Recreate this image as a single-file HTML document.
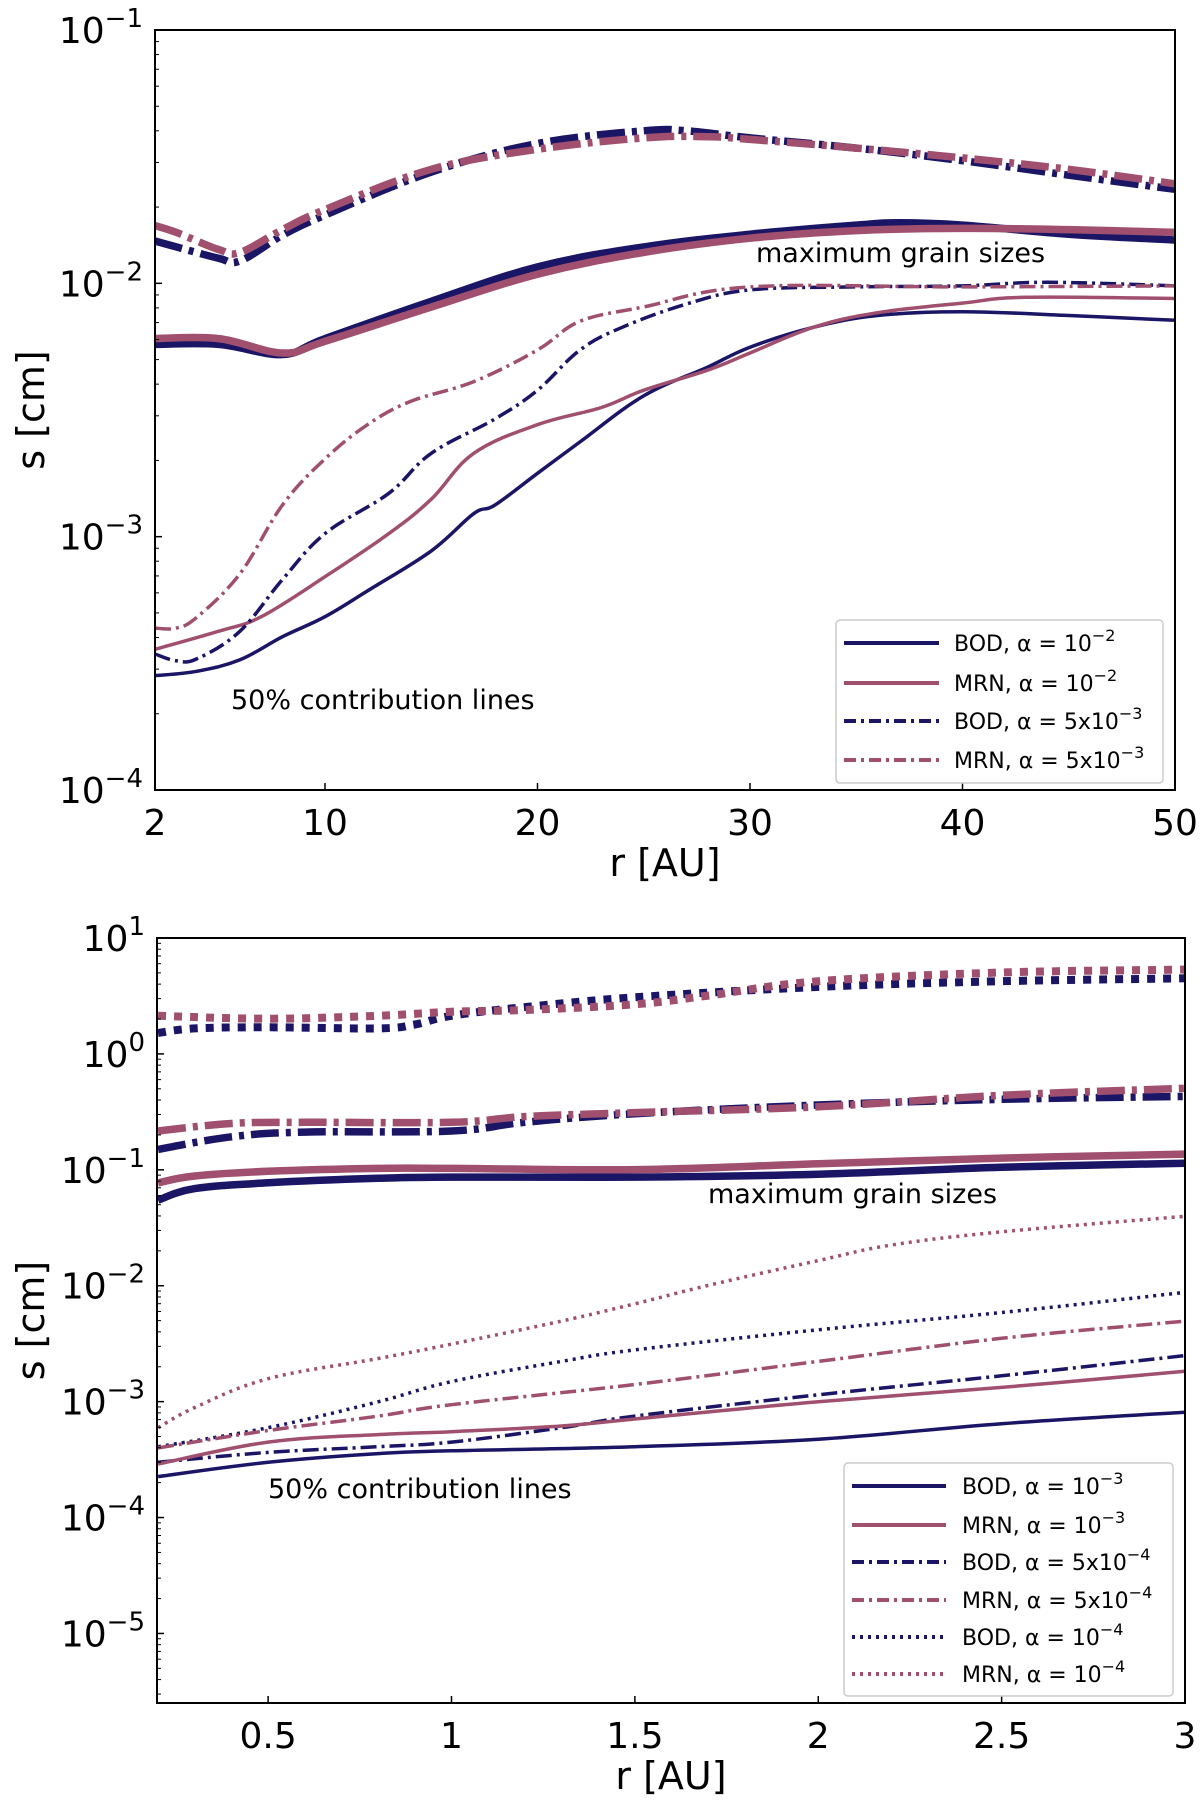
<!DOCTYPE html>
<html><head><meta charset="utf-8"><style>
html,body{margin:0;padding:0;background:#fff;}
svg{display:block;font-family:"DejaVu Sans","Liberation Sans",sans-serif;}
</style></head><body>
<svg id="fig" width="1200" height="1805" viewBox="0 0 1200 1805" xmlns="http://www.w3.org/2000/svg"></svg>
<script>
// ---------- Top panel data (log10 s [cm]) ----------
const topBodMaxX=[2,5,8,10,15,20,25,30,35,37,40,45,50];
const topBodMaxY=[-2.241,-2.241,-2.281,-2.218,-2.071,-1.935,-1.856,-1.806,-1.770,-1.761,-1.770,-1.806,-1.829];
const topMrnMaxX=[2,5,8,10,15,20,25,30,35,40,45,50];
const topMrnMaxY=[-2.218,-2.218,-2.275,-2.229,-2.094,-1.964,-1.878,-1.822,-1.792,-1.783,-1.788,-1.799];
const topBodDdMaxX=[2,3,5,6,8,10,15,20,25,27,30,35,40,45,50];
const topBodDdMaxY=[-1.833,-1.856,-1.901,-1.912,-1.810,-1.731,-1.561,-1.448,-1.398,-1.398,-1.426,-1.466,-1.516,-1.573,-1.629];
const topMrnDdMaxX=[2,3,5,6,8,10,15,20,25,28,30,35,40,45,50];
const topMrnDdMaxY=[-1.772,-1.799,-1.867,-1.878,-1.788,-1.709,-1.550,-1.471,-1.426,-1.421,-1.432,-1.466,-1.505,-1.550,-1.607];
const topBod50X=[2,4,6,8,10,12,15,17,18,20,22,25,28,30,33,36,40,45,50];
const topBod50Y=[-3.549,-3.531,-3.486,-3.395,-3.316,-3.214,-3.056,-2.909,-2.875,-2.750,-2.626,-2.444,-2.331,-2.252,-2.173,-2.127,-2.112,-2.127,-2.146];
const topMrn50X=[2,5,7,10,13,15,17,20,23,25,28,30,33,36,40,43,50];
const topMrn50Y=[-3.445,-3.373,-3.316,-3.158,-2.988,-2.852,-2.671,-2.558,-2.490,-2.422,-2.343,-2.275,-2.173,-2.116,-2.078,-2.055,-2.060];
const topBodDd50X=[2,3,4,6,8,10,13,15,18,20,22,24,27,30,35,40,44,50];
const topBodDd50Y=[-3.463,-3.490,-3.481,-3.373,-3.169,-2.988,-2.829,-2.671,-2.535,-2.422,-2.263,-2.173,-2.082,-2.026,-2.014,-2.010,-1.996,-2.010];
const topMrnDd50X=[2,3,4,6,8,10,12,14,17,20,22,25,30,40,50];
const topMrnDd50Y=[-3.361,-3.361,-3.316,-3.146,-2.875,-2.693,-2.558,-2.467,-2.388,-2.263,-2.150,-2.093,-2.014,-2.014,-2.010];
const topXTicks=[2,10,20,30,40,50];
const topYTicks=[-4,-3,-2,-1];

// ---------- Bottom panel data (log10 s [cm]) ----------
const botBodDotMaxX=[0.2,0.3,0.5,0.8,0.9,1,1.2,1.5,2,2.5,3];
const botBodDotMaxY=[0.180,0.220,0.230,0.220,0.254,0.329,0.404,0.488,0.578,0.627,0.652];
const botMrnDotMaxX=[0.2,0.5,0.8,1,1.2,1.5,1.7,2,2.5,3];
const botMrnDotMaxY=[0.329,0.304,0.329,0.364,0.379,0.428,0.503,0.627,0.702,0.727];
const botDdMaxX=[0.2,0.4,0.6,1,1.2,1.5,2,2.5,3];
const botBodDdMaxY=[-0.824,-0.715,-0.675,-0.665,-0.590,-0.516,-0.441,-0.392,-0.367];
const botMrnDdMaxY=[-0.665,-0.600,-0.590,-0.590,-0.541,-0.506,-0.456,-0.357,-0.297];
const botSolidMaxX=[0.2,0.3,0.5,0.8,1,1.5,2,2.5,3];
const botBodMaxY=[-1.261,-1.162,-1.112,-1.073,-1.063,-1.063,-1.038,-0.978,-0.943];
const botMrnMaxY=[-1.112,-1.053,-1.013,-0.988,-0.988,-0.998,-0.948,-0.899,-0.864];
const botMrnDot50X=[0.2,0.3,0.5,0.8,1,1.3,1.5,1.7,2,2.2,2.5,3];
const botMrnDot50Y=[-3.225,-3.051,-2.802,-2.628,-2.504,-2.305,-2.156,-1.997,-1.783,-1.649,-1.535,-1.401];
const botBodDot50X=[0.2,0.5,0.8,1,1.3,1.5,2,2.5,3];
const botBodDot50Y=[-3.389,-3.225,-3.001,-2.827,-2.653,-2.554,-2.380,-2.231,-2.057];
const botMrnDd50X=[0.2,0.5,0.8,1,1.5,2,2.5,3];
const botMrnDd50Y=[-3.399,-3.249,-3.125,-3.026,-2.852,-2.653,-2.454,-2.305];
const botBodDd50X=[0.2,0.5,0.8,1,1.3,1.5,2,2.5,3];
const botBodDd50Y=[-3.523,-3.438,-3.389,-3.349,-3.225,-3.125,-2.941,-2.777,-2.603];
const botMrn50X=[0.2,0.5,0.8,1,1.3,1.5,2,2.5,3];
const botMrn50Y=[-3.538,-3.349,-3.284,-3.259,-3.210,-3.150,-3.001,-2.877,-2.738];
const botBod50X=[0.2,0.5,0.8,1,1.5,2,2.5,3];
const botBod50Y=[-3.647,-3.523,-3.448,-3.424,-3.389,-3.324,-3.190,-3.091];
const botXTicks=[0.5,1,1.5,2,2.5,3];
const botXTickLabels=["0.5","1","1.5","2","2.5","3"];
const botYTicks=[-5,-4,-3,-2,-1,0,1];

const NAVY="#1b1566", MAUVE="#a0506e";
const NS="http://www.w3.org/2000/svg";
const svg=document.getElementById('fig');
function mk(tag,attrs,parent){const e=document.createElementNS(NS,tag);for(const k in attrs)e.setAttribute(k,attrs[k]);(parent||svg).appendChild(e);return e;}

function smoothPath(P){
  let d='M'+P[0][0].toFixed(1)+','+P[0][1].toFixed(1);
  for(let i=0;i<P.length-1;i++){
    const p0=P[Math.max(0,i-1)],p1=P[i],p2=P[i+1],p3=P[Math.min(P.length-1,i+2)];
    const t=0.18;
    const c1=[p1[0]+(p2[0]-p0[0])*t,p1[1]+(p2[1]-p0[1])*t];
    const c2=[p2[0]-(p3[0]-p1[0])*t,p2[1]-(p3[1]-p1[1])*t];
    d+=' C'+c1[0].toFixed(1)+','+c1[1].toFixed(1)+' '+c2[0].toFixed(1)+','+c2[1].toFixed(1)+' '+p2[0].toFixed(1)+','+p2[1].toFixed(1);
  }
  return d;
}

function panel(cfg){
  const g=mk('g',{});
  
  
  const sx=v=>cfg.x0+(v-cfg.xmin)/(cfg.xmax-cfg.xmin)*(cfg.x1-cfg.x0);
  const sy=v=>cfg.y1-(v-cfg.ymin)/(cfg.ymax-cfg.ymin)*(cfg.y1-cfg.y0);
  const sg=mk('g',{},g);
  cfg.series.forEach(s=>{
    const P=s.x.map((x,i)=>[sx(x),sy(s.y[i])]);
    const p=mk('path',{d:smoothPath(P),fill:'none',stroke:s.c,'stroke-width':s.w,'stroke-linejoin':'round'},sg);
    if(s.d)p.setAttribute('stroke-dasharray',s.d);
    
    
  });
  const fr=mk('rect',{x:cfg.x0,y:cfg.y0,width:cfg.x1-cfg.x0,height:cfg.y1-cfg.y0,fill:'none',stroke:'#000','stroke-width':2},g);
  
  
  cfg.xt.forEach((v,i)=>{
    const x=sx(v);
    mk('line',{x1:x,x2:x,y1:cfg.y1,y2:cfg.y1-7,stroke:'#000','stroke-width':1.5},g);
    const t=mk('text',{x:x,y:cfg.y1+45,'text-anchor':'middle','font-size':36},g);
    t.textContent=cfg.xl[i];
    
    
  });
  cfg.yt.forEach(v=>{
    const y=sy(v);
    mk('line',{x1:cfg.x0,x2:cfg.x0+7,y1:y,y2:y,stroke:'#000','stroke-width':1.5},g);
    const t=mk('text',{x:cfg.x0-12,y:y+13,'text-anchor':'end','font-size':36},g);
    
    
    t.textContent='10';
    const sp=mk('tspan',{dy:-16,'font-size':26},t);sp.textContent=(v<0?'\u2212'+(-v):String(v));
  });
  for(let d=Math.floor(cfg.ymin);d<cfg.ymax;d++){
    for(let m=2;m<10;m++){const v=d+Math.log10(m);if(v<=cfg.ymin||v>=cfg.ymax)continue;const y=sy(v);
      mk('line',{x1:cfg.x0,x2:cfg.x0+4,y1:y,y2:y,stroke:'#000','stroke-width':1},g);}
  }
  const xt=mk('text',{x:(cfg.x0+cfg.x1)/2,y:cfg.y1+86,'text-anchor':'middle','font-size':38},g);
  xt.textContent='r [AU]';
  
  
  const yc=(cfg.y0+cfg.y1)/2;
  const yt=mk('text',{x:44,y:yc,'text-anchor':'middle','font-size':38,transform:'rotate(-90 44 '+yc+')'},g);
  yt.textContent='s [cm]';
  
  
  cfg.ann.forEach(a=>{const t=mk('text',{x:a[0],y:a[1],'font-size':27},g);t.textContent=a[2];
    
    });
  const L=cfg.leg;
  const lg=mk('g',{},g);
  
  
  mk('rect',{x:L.x,y:L.y,width:L.w,height:L.h,rx:4,fill:'#fff',stroke:'#ccc','stroke-width':1.5},lg);
  L.items.forEach((it,i)=>{
    const y=L.ey[i];
    const ln=mk('line',{x1:L.lx0,x2:L.lx1,y1:y,y2:y,stroke:it.c,'stroke-width':4},lg);
    if(it.d)ln.setAttribute('stroke-dasharray',it.d);
    const t=mk('text',{x:L.tx,y:y+8,'font-size':22},lg);
    
    
    t.textContent=it.t;
    const sp=mk('tspan',{dy:-10,'font-size':16},t);sp.textContent=it.e;
  });
}

const DDt="28 7 5 7", DDthin="16 5 3 5";
panel({name:'top-panel',x0:155,x1:1175,y0:30,y1:790,xmin:2,xmax:50,ymin:-4,ymax:-1,
  xt:topXTicks,xl:topXTicks.map(String),yt:topYTicks,
  series:[
    {n:'bod-max-dashdot',x:topBodDdMaxX,y:topBodDdMaxY,c:NAVY,w:7.5,d:DDt},
    {n:'mrn-max-dashdot',x:topMrnDdMaxX,y:topMrnDdMaxY,c:MAUVE,w:7.5,d:DDt},
    {n:'bod-max-solid',x:topBodMaxX,y:topBodMaxY,c:NAVY,w:7.5},
    {n:'mrn-max-solid',x:topMrnMaxX,y:topMrnMaxY,c:MAUVE,w:7.5},
    {n:'bod-50-solid',x:topBod50X,y:topBod50Y,c:NAVY,w:3.5},
    {n:'mrn-50-solid',x:topMrn50X,y:topMrn50Y,c:MAUVE,w:3.5},
    {n:'bod-50-dashdot',x:topBodDd50X,y:topBodDd50Y,c:NAVY,w:3.5,d:DDthin},
    {n:'mrn-50-dashdot',x:topMrnDd50X,y:topMrnDd50Y,c:MAUVE,w:3.5,d:DDthin}
  ],
  ann:[[756,262,'maximum grain sizes','max-size-annotation'],[231,709,'50% contribution lines','contribution-annotation']],
  leg:{x:836,y:620,w:327,h:163,lx0:844,lx1:939,tx:954,ey:[643,683,721,760],
    items:[{c:NAVY,t:'BOD, \u03b1 = 10',e:'\u22122'},{c:MAUVE,t:'MRN, \u03b1 = 10',e:'\u22122'},
      {c:NAVY,d:'12 5 3 5',t:'BOD, \u03b1 = 5x10',e:'\u22123'},{c:MAUVE,d:'12 5 3 5',t:'MRN, \u03b1 = 5x10',e:'\u22123'}]}
});

const DOTt="8 8", DOTthin="3 5";
panel({name:'bottom-panel',x0:157,x1:1185,y0:938,y1:1703,xmin:0.197,xmax:3,ymin:-5.6,ymax:1,
  xt:botXTicks,xl:botXTickLabels,yt:botYTicks,
  series:[
    {n:'bod-max-dotted',x:botBodDotMaxX,y:botBodDotMaxY,c:NAVY,w:8,d:DOTt},
    {n:'mrn-max-dotted',x:botMrnDotMaxX,y:botMrnDotMaxY,c:MAUVE,w:8,d:DOTt},
    {n:'bod-max-dashdot',x:botDdMaxX,y:botBodDdMaxY,c:NAVY,w:7.5,d:DDt},
    {n:'mrn-max-dashdot',x:botDdMaxX,y:botMrnDdMaxY,c:MAUVE,w:7.5,d:DDt},
    {n:'bod-max-solid',x:botSolidMaxX,y:botBodMaxY,c:NAVY,w:7.5},
    {n:'mrn-max-solid',x:botSolidMaxX,y:botMrnMaxY,c:MAUVE,w:7.5},
    {n:'mrn-50-dotted',x:botMrnDot50X,y:botMrnDot50Y,c:MAUVE,w:3.5,d:DOTthin},
    {n:'bod-50-dotted',x:botBodDot50X,y:botBodDot50Y,c:NAVY,w:3.5,d:DOTthin},
    {n:'mrn-50-dashdot',x:botMrnDd50X,y:botMrnDd50Y,c:MAUVE,w:3.5,d:DDthin},
    {n:'bod-50-dashdot',x:botBodDd50X,y:botBodDd50Y,c:NAVY,w:3.5,d:DDthin},
    {n:'mrn-50-solid',x:botMrn50X,y:botMrn50Y,c:MAUVE,w:3.5},
    {n:'bod-50-solid',x:botBod50X,y:botBod50Y,c:NAVY,w:3.5}
  ],
  ann:[[708,1203,'maximum grain sizes','max-size-annotation'],[268,1498,'50% contribution lines','contribution-annotation']],
  leg:{x:844,y:1463,w:329,h:233,lx0:852,lx1:946,tx:962,ey:[1486,1525,1562,1600,1637,1674],
    items:[{c:NAVY,t:'BOD, \u03b1 = 10',e:'\u22123'},{c:MAUVE,t:'MRN, \u03b1 = 10',e:'\u22123'},
      {c:NAVY,d:'12 5 3 5',t:'BOD, \u03b1 = 5x10',e:'\u22124'},{c:MAUVE,d:'12 5 3 5',t:'MRN, \u03b1 = 5x10',e:'\u22124'},
      {c:NAVY,d:'3 5',t:'BOD, \u03b1 = 10',e:'\u22124'},{c:MAUVE,d:'3 5',t:'MRN, \u03b1 = 10',e:'\u22124'}]}
});
</script>
</body></html>
